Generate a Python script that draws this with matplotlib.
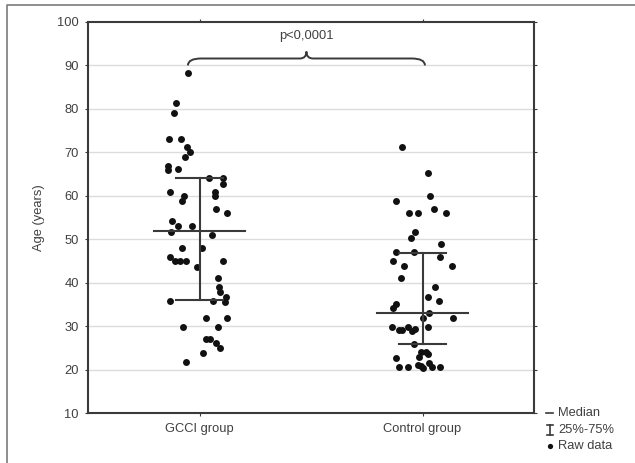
import matplotlib
matplotlib.use("Agg")
import matplotlib.pyplot as plt
from matplotlib.path import Path
from matplotlib.patches import PathPatch

plt.rcParams['font.family'] = ['Liberation Sans', 'DejaVu Sans']

categories = ["GCCI group", "Control group"]

gcci_age = [88.2, 81.3, 79.1, 73.1, 73.1, 71.2, 70.0, 69.0, 66.8, 65.9,
            66.1, 64.1, 64.2, 62.7, 60.8, 60.0, 58.8, 60.9, 60.0, 56.9,
            56.0, 54.2, 53.0, 53.0, 51.7, 51.0, 47.9, 47.9, 45.8, 45.1,
            45.1, 45.1, 45.1, 43.7, 41.0, 39.1, 37.9, 36.6, 35.6, 35.8,
            35.8, 31.8, 31.8, 29.9, 29.9, 27.0, 27.0, 26.0, 24.9, 23.9,
            21.7]
gcci_jitter = [-0.052, -0.105, -0.114, -0.137, -0.083, -0.056, -0.043, -0.065, -0.141, -0.141,
               -0.096, 0.043, 0.105, 0.105, -0.132, -0.070, -0.078, 0.070, 0.070, 0.074,
               0.123, -0.123, -0.096, -0.034, -0.128, 0.056, -0.078, 0.011, -0.132, -0.110,
               -0.087, -0.061, 0.105, -0.011, 0.083, 0.087, 0.092, 0.119, 0.114, 0.061,
               -0.132, 0.029, 0.123, -0.074, 0.083, 0.029, 0.047, 0.074, 0.092, 0.016,
               -0.061]

control_age = [71.2, 65.2, 60.0, 58.9, 56.1, 56.1, 56.9, 56.1, 51.7, 50.2,
               48.9, 47.0, 47.0, 45.8, 45.0, 43.9, 43.9, 41.0, 38.9, 36.8,
               35.8, 35.2, 34.1, 33.0, 31.9, 31.9, 29.9, 29.1, 29.1, 29.7,
               28.9, 29.3, 29.7, 25.9, 24.1, 24.1, 23.5, 23.0, 22.6, 20.7,
               20.7, 21.0, 20.3, 20.8, 21.4, 20.5, 20.7]
control_jitter = [-0.092, 0.025, 0.034, -0.119, -0.061, -0.020, 0.052, 0.105, -0.034, -0.052,
                  0.083, -0.119, -0.038, 0.078, -0.132, -0.083, 0.132, -0.096, 0.056, 0.025,
                  0.074, -0.119, -0.132, 0.029, 0.002, 0.137, -0.137, -0.105, -0.092, -0.065,
                  -0.047, -0.034, 0.025, -0.038, -0.007, 0.016, 0.025, -0.016, -0.119, -0.105,
                  -0.065, -0.020, 0.002, -0.007, 0.029, 0.043, 0.078]

medians = [51.8, 33.0]
q1 = [35.9, 25.9]
q3 = [64.0, 46.9]

yticks = [10, 20, 30, 40, 50, 60, 70, 80, 90, 100]
p_text = "p<0,0001"
legend_labels = ["Median", "25%-75%", "Raw data"]

W, H = 635, 463
fig = plt.figure(figsize=(W / 100, H / 100), dpi=100)
ax = fig.add_axes([88 / W, 1 - 413 / H, (534 - 88) / W, (413 - 22) / H])

dark = '#3a3a3a'
txt = '#404040'
fs = 9.3

ax.set_xlim(0.5, 2.5)
ax.set_ylim(10, 100)
ax.set_yticks(yticks)
ax.set_xticks([1, 2])
ax.set_xticklabels(categories)
for y in yticks[1:-1]:
    ax.axhline(y, color='#dcdcdc', lw=1.0, zorder=0)

for s in ax.spines.values():
    s.set_color(dark)
    s.set_linewidth(1.5)
ax.tick_params(axis='both', which='both', direction='out', length=2.5, width=0.8,
               color=dark, labelsize=fs, labelcolor=txt, top=True, right=True)
ax.tick_params(axis='y', pad=4)
ax.tick_params(axis='x', pad=5)
ax.set_ylabel("Age (years)", fontsize=fs, color=txt, labelpad=9)

groups = [(gcci_age, gcci_jitter), (control_age, control_jitter)]
for i, (ages, jit) in enumerate(groups):
    c = i + 1
    xs = [c + j for j in jit]
    ax.plot(xs, ages, linestyle='none', marker='o', ms=5.0, mew=0, color='#111111', zorder=3)
    ax.plot([c, c], [q1[i], q3[i]], color=dark, lw=1.5, zorder=4)
    ax.plot([c - 0.105, c + 0.105], [q1[i], q1[i]], color=dark, lw=1.5, zorder=4)
    ax.plot([c - 0.105, c + 0.105], [q3[i], q3[i]], color=dark, lw=1.5, zorder=4)
    ax.plot([c - 0.205, c + 0.205], [medians[i], medians[i]], color=dark, lw=1.5, zorder=4)

# curly brace
x0, x1 = 0.948, 2.011
xc = (x0 + x1) / 2
yb, yl, yt = 90.0, 91.6, 93.2
verts = [(x0, yb), (x0, yl), (x0 + 0.06, yl),
         (xc - 0.03, yl), (xc, yl), (xc, yt),
         (xc, yl), (xc + 0.03, yl),
         (x1 - 0.06, yl), (x1, yl), (x1, yb)]
codes = [Path.MOVETO, Path.CURVE3, Path.CURVE3,
         Path.LINETO, Path.CURVE3, Path.CURVE3,
         Path.CURVE3, Path.CURVE3,
         Path.LINETO, Path.CURVE3, Path.CURVE3]
ax.add_patch(PathPatch(Path(verts, codes), fill=False, edgecolor=dark, lw=1.4, zorder=4))
ax.text(xc, 96.8, p_text, ha='center', va='center', fontsize=fs, color=txt)

# overlay for frame and legend
ov = fig.add_axes([0, 0, 1, 1], facecolor='none')
ov.set_xlim(0, W)
ov.set_ylim(H, 0)
ov.axis('off')
ov.plot([7, 7, W + 5], [H + 5, 5, 5], color='#7a7a7a', lw=1.2, clip_on=False)

ly = [413, 430, 446]
ov.plot([546, 553], [ly[0], ly[0]], color=dark, lw=1.2)
ov.plot([550, 550], [ly[1] - 5, ly[1] + 5], color=dark, lw=1.2)
ov.plot([547, 553], [ly[1] - 5, ly[1] - 5], color=dark, lw=1.2)
ov.plot([547, 553], [ly[1] + 5, ly[1] + 5], color=dark, lw=1.2)
ov.plot([550], [ly[2]], marker='o', ms=3.8, mew=0, color='#111111')
for y, lab in zip(ly, legend_labels):
    ov.text(558, y, lab, ha='left', va='center', fontsize=fs, color=txt)

fig.savefig("out.png", dpi=100)
